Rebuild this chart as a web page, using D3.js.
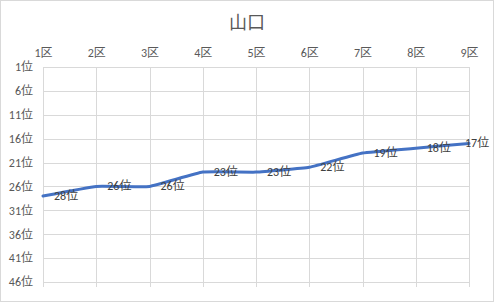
<!DOCTYPE html>
<html>
<head>
<meta charset="utf-8">
<script src="https://cdn.jsdelivr.net/npm/d3@7"></script>
<style>
  body { margin: 0; background: #fff; }
  text { font-family: Calibri, "Liberation Sans", "Noto Sans CJK JP", sans-serif; fill: #595959; }
</style>
</head>
<body>
<div id="chart"></div>
<script>
// data
const districts = ["1区", "2区", "3区", "4区", "5区", "6区", "7区", "8区", "9区"];
const ranks = [28, 26, 26, 23, 23, 22, 19, 18, 17];
const rankTicks = [1, 6, 11, 16, 21, 26, 31, 36, 41, 46];
const title = "山口";

const W = 494, H = 302;
const margin = { top: 67, right: 25, bottom: 20, left: 43 };
const width = W - margin.left - margin.right;
const height = 282 - margin.top;

const svg = d3.select("#chart").append("svg")
  .attr("width", W)
  .attr("height", H);

svg.append("rect")
  .attr("x", 0.5).attr("y", 0.5)
  .attr("width", W - 1).attr("height", H - 1)
  .attr("fill", "#fff").attr("stroke", "#d9d9d9");

svg.append("text")
  .attr("x", W / 2).attr("y", 29)
  .attr("text-anchor", "middle")
  .attr("font-size", 18)
  .text(title);

const g = svg.append("g")
  .attr("transform", "translate(" + margin.left + "," + margin.top + ")");

const x = d3.scalePoint().domain(districts).range([0, width]);
const y = d3.scaleLinear().domain([1, 46]).range([0, height]);

// gridlines
g.append("g").selectAll("line").data(rankTicks).join("line")
  .attr("x1", 0).attr("x2", width)
  .attr("y1", d => Math.round(y(d)) + 0.5).attr("y2", d => Math.round(y(d)) + 0.5)
  .attr("stroke", "#d9d9d9");

g.append("g").selectAll("line").data(districts).join("line")
  .attr("x1", d => Math.round(x(d)) + 0.5).attr("x2", d => Math.round(x(d)) + 0.5)
  .attr("y1", 0).attr("y2", height + 5)
  .attr("stroke", "#d9d9d9");

// axes
const xAxis = g.append("g")
  .call(d3.axisTop(x).tickSize(0).tickPadding(10));
xAxis.select(".domain").remove();
xAxis.selectAll("text").attr("font-size", 12).style("fill", "#595959");

const yAxis = g.append("g")
  .call(d3.axisLeft(y).tickValues(rankTicks).tickSize(0).tickPadding(10).tickFormat(d => d + "位"));
yAxis.select(".domain").remove();
yAxis.selectAll("text").attr("font-size", 12).style("fill", "#595959");

// line
const line = d3.line()
  .x((d, i) => x(districts[i]))
  .y(d => y(d))
  .curve(d3.curveCardinal.tension(0.7));

g.append("path")
  .datum(ranks)
  .attr("fill", "none")
  .attr("stroke", "#4472c4")
  .attr("stroke-width", 3)
  .attr("stroke-linejoin", "round")
  .attr("stroke-linecap", "round")
  .attr("d", line);

// labels (right of point, kept inside the chart)
g.append("g").selectAll("text").data(ranks).join("text")
  .attr("x", (d, i) => Math.min(x(districts[i]) + 11, W - margin.left - 29))
  .attr("y", d => y(d) + 4)
  .attr("font-size", 12)
  .style("fill", "#404040")
  .text(d => d + "位");
</script>
</body>
</html>
